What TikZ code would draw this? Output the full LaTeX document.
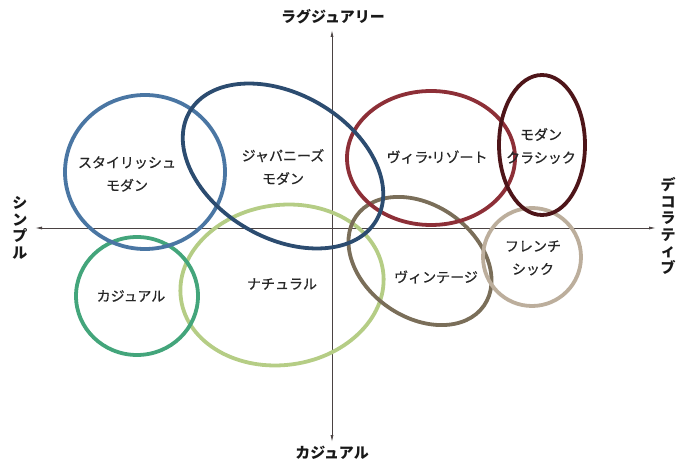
\documentclass[tikz,border=0pt]{standalone}
\usepackage{fontspec}
\newfontfamily\jp{Noto Sans CJK JP}
\newfontfamily\jptag[FakeBold=0.7]{Noto Sans CJK JP}
\usetikzlibrary{arrows.meta}

\definecolor{stylishblue}{HTML}{4A76A3}
\definecolor{japannavy}{HTML}{2C4C70}
\definecolor{casualgreen}{HTML}{43A57B}
\definecolor{naturalgreen}{HTML}{B5CD85}
\definecolor{villared}{HTML}{8D2F37}
\definecolor{classicmaroon}{HTML}{4E1519}
\definecolor{vintagebrown}{HTML}{7A6E59}
\definecolor{frenchtaupe}{HTML}{BCAE9C}
\definecolor{axisgray}{HTML}{4A4242}

\tikzset{
  ring/.style={line width=3.8pt},
  axisline/.style={axisgray, line width=0.8pt, -{Latex[length=7pt,width=3pt]}},
  tag/.style={font=\jptag\fontsize{14}{23}\selectfont, text=black!85, align=center, inner sep=0pt},
  axistag/.style={font=\jp\bfseries\fontsize{15}{16.5}\selectfont, text=black!90, align=center, inner sep=0pt}
}

\begin{document}
\begin{tikzpicture}[x=1pt,y=1pt]
    \useasboundingbox (0,0) rectangle (690,463);

    % Axes
    \coordinate (origin) at (332,235);
    \coordinate (left) at (35,235);
    \coordinate (right) at (656,235);
    \coordinate (top) at (332,433);
    \coordinate (bottom) at (332,21);
    \draw[axisline] (origin) -- (left);
    \draw[axisline] (origin) -- (right);
    \draw[axisline] (origin) -- (top);
    \draw[axisline] (origin) -- (bottom);

    % Style circles
    \draw[ring, naturalgreen, rotate around={8:(282,178)}] (282,178) ellipse [x radius=102, y radius=80];
    \draw[ring, casualgreen] (137,167) ellipse [x radius=61, y radius=59];
    \draw[ring, stylishblue] (145,291) ellipse [x radius=80, y radius=77];
    \draw[ring, vintagebrown, rotate around={-35:(420,202)}] (420,202) ellipse [x radius=78, y radius=56];
    \draw[ring, frenchtaupe] (532,206) circle (49);
    \draw[ring, villared] (431,305) ellipse [x radius=84, y radius=67];
    \draw[ring, classicmaroon] (542,318) ellipse [x radius=43, y radius=70];
    \draw[ring, japannavy, rotate around={-30:(283,297)}] (283,297) ellipse [x radius=108, y radius=72];

    % Labels of the styles
    \node[tag] (stylish) at (127,289) {スタイリッシュ\\モダン};
    \node[tag] (japanese) at (283,296) {ジャパニーズ\\モダン};
    \node[tag] (villa) at (437,306) {ヴィラ\kern-5.5pt・\kern-5.5pt リゾート};
    \node[tag] (classic) at (541,317) {モダン\\クラシック};
    \node[tag] (casual) at (131,167) {カジュアル};
    \node[tag] (natural) at (282,179) {ナチュラル};
    \node[tag] (vintage) at (436,186) {ヴィンテージ};
    \node[tag] (french) at (533,205) {フレンチ\\シック};

    % Labels of the axes
    \node[axistag] (luxury) at (333,446) {ラグジュアリー};
    \node[axistag] (casualaxis) at (332,10) {カジュアル};
    \node[axistag] (simple) at (20,235) {シ\\ン\\プ\\ル};
    \node[axistag] (deco) at (668,237) {デ\\コ\\ラ\\テ\\ィ\\ブ};

\end{tikzpicture}
\end{document}
